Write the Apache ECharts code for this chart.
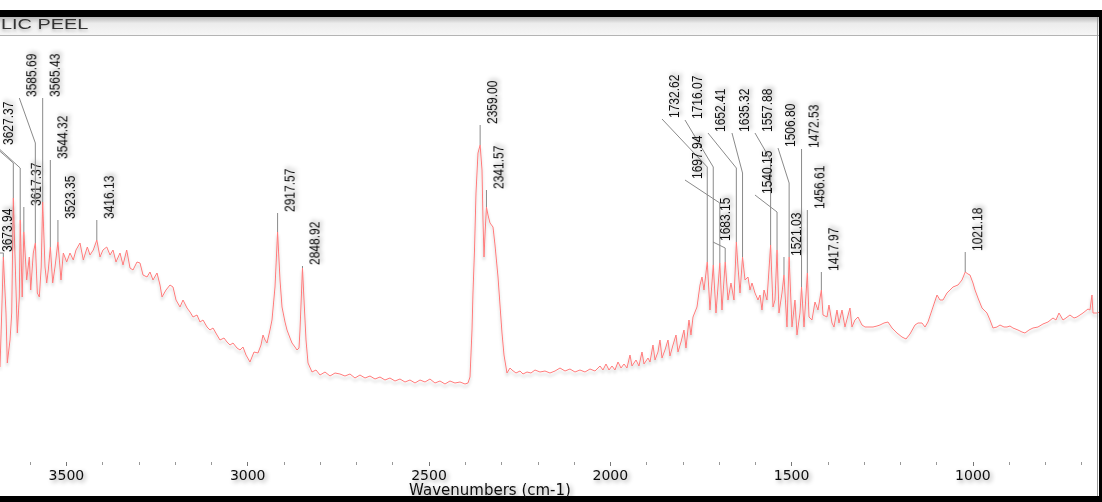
<!DOCTYPE html>
<html><head><meta charset="utf-8">
<script src="https://cdn.jsdelivr.net/npm/echarts@6/dist/echarts.min.js"></script>
<style>html,body{margin:0;padding:0;background:#fff;overflow:hidden}#c{width:1102px;height:502px}</style>
</head><body><div id="c"></div><script>
const titleText = 'LIC PEEL';
const axisTitle = 'Wavenumbers (cm-1)';
const xTicks = [500, 4000, 500]; // min, max, interval

// [wavenumber (cm-1), absorbance (arbitrary units)]
const spectrum = [
[3683.1,23.75],[3678.4,37.25],[3673.94,51.25],[3666.6,37.25],[3663.0,24.75],[3655.5,30.5],[3650.8,37.25],[3646.40,66],[3639.8,45.5],[3635.4,32.25],[3629.9,41.25],[3627.37,60.5],[3621.9,41.25],[3617.37,57.5],[3609.5,45.5],[3602.3,51.25],[3598.4,43],[3591.3,52.25],[3585.69,54.75],[3580.2,42.25],[3574.7,41.25],[3569.5,48.75],[3565.43,65],[3559.0,48.75],[3554.3,44.75],[3549.9,48],[3544.32,53.75],[3537.8,44.75],[3531.4,48.75],[3523.35,55],[3514.9,45.5],[3508.5,52.25],[3499.2,50],[3490.1,52.25],[3481.0,50.5],[3473.5,53],[3462.5,54.75],[3453.4,50.5],[3442.3,53.75],[3434.9,51.75],[3425.8,53],[3416.13,55.5],[3407.3,51.25],[3399.1,53],[3388.8,53.75],[3379.7,51.75],[3371.5,53],[3363.2,50],[3352.2,52.25],[3343.9,49.25],[3333.7,53],[3324.6,48.5],[3316.3,48],[3305.3,50],[3297.0,49.75],[3288.7,46.75],[3277.7,46.25],
[3269.4,47.5],[3261.2,45.5],[3250.1,47.25],[3241.9,44.25],[3236.3,41.25],[3225.3,43],[3214.3,44.25],[3206.0,43.75],[3197.7,40.5],[3186.7,38.75],[3178.4,40.5],[3167.4,38.5],[3159.1,37.5],[3150.8,36.25],[3139.8,36.75],[3131.5,35],[3123.3,35.5],[3112.2,33.75],[3104.0,33],[3095.7,33.5],[3084.7,31.75],[3076.4,30.5],[3065.4,31],[3057.1,30],[3048.8,29.25],[3040.5,29.75],[3029.5,28.5],[3021.2,28],[3013.0,28.75],[3004.7,26.75],[2993.7,25],[2982.6,27.5],[2971.6,27.25],[2963.3,29.25],[2957.8,31.75],[2952.3,30.5],[2946.8,29.75],[2938.5,33],[2933.0,35.5],[2924.7,43.75],[2917.57,57.5],[2910.9,45.5],[2905.4,38.75],[2897.1,35],[2891.6,33],[2883.3,31],[2877.8,29.75],[2869.6,28.75],[2864.0,28],[2858.5,28.5],[2855.8,33],[2848.92,48.5],[2844.7,40.5],[2839.2,30.5],[2833.7,24.75],[2822.7,22.5],
[2811.6,23],[2800.6,21.75],[2786.8,22.5],[2773.0,21.5],[2759.2,22.25],[2745.5,22],[2731.7,21.5],[2717.9,22],[2704.1,21],[2690.3,21.75],[2676.5,21],[2662.7,21.5],[2648.9,20.75],[2635.1,21.25],[2621.4,20.5],[2607.6,21],[2593.8,20.25],[2580.0,20.75],[2566.2,20],[2552.4,20.5],[2538.6,19.75],[2524.8,20.5],[2511.0,20],[2497.3,20.75],[2483.5,19.75],[2469.7,20.25],[2455.9,19.5],[2442.1,20.25],[2428.3,19.75],[2414.5,20],[2400.7,19.5],[2392.5,19.75],[2386.9,21.25],
[2381.4,33],[2378.7,42.25],[2374.5,53],[2370.4,67.25],[2364.9,77.25],[2359.00,79.25],[2353.8,73],[2351.1,60.5],[2348.3,51.25],[2345.6,56.75],[2341.57,63.75],[2337.3,61.75],[2331.8,59.75],[2323.5,58.75],[2318.0,54.25],[2309.7,46.25],[2304.2,39.25],[2298.7,32.25],[2293.2,26.75],[2284.9,22.25],[2276.6,23.5],[2271.1,23],[2260.1,22.25],[2249.0,22.75],[2240.8,22],[2229.7,22.5],[2218.7,22.25],
[2207.7,23],[2193.9,22.5],[2180.1,22.75],[2166.3,22.25],[2152.5,22.75],[2138.7,23.5],[2124.9,22.75],[2111.2,23.25],[2097.4,22.5],[2083.6,23],[2069.8,22.5],[2056.0,23.25],[2042.2,22.75],[2028.4,24],[2020.2,23],[2011.9,24.5],[2003.6,23],[1995.3,24],[1987.1,23],[1978.8,25],[1970.5,23.5],[1962.2,24.5],[1954.0,23.5],[1945.7,26.75],[1940.2,24],[1929.1,25.5],[1920.9,24],[1912.6,27.5],[1907.1,24.5],[1896.0,26],[1890.5,25],[1882.3,29.25],[1876.7,25.5],[1868.5,27.5],[1863.0,30.5],[1857.4,26],[1849.2,28],[1840.9,30.5],[1835.4,26.5],[1827.1,29.25],[1818.8,31.75],[1813.3,27.5],[1805.0,30],[1796.8,33],[1791.3,28.5],[1783.0,35.5],[1777.5,31.75],
[1771.9,36.25],[1760.9,38.75],[1752.6,44.25],[1747.1,46.25],[1741.6,43],[1732.62,50],[1725.1,38],[1716.07,49.25],[1708.5,37.25],[1697.94,49.75],[1692.0,38],[1683.15,50],[1675.4,40.5],[1667.2,44.75],[1658.9,40.5],[1652.41,55],[1647.8,48.75],[1642.3,42.25],[1635.32,51.25],[1628.5,45.5],[1620.3,46.25],[1614.8,43],[1609.2,44.75],[1601.0,42.25],[1592.7,40.5],[1587.2,41.75],[1581.7,38],[1576.1,43],[1567.9,40.5],[1557.88,54.25],[1551.3,38.75],[1545.8,40.5],[1540.15,53],[1534.8,37.25],[1526.5,42.25],[1521.03,46.75],[1512.7,33.75],[1506.80,51.25],[1498.9,33.75],[1490.7,40.5],[1485.1,31.75],[1476.9,37.25],[1472.53,43.75],[1465.8,33.75],[1456.61,47.25],[1452.0,36.25],[1443.8,35.5],[1435.5,40],[1427.2,38],[1417.97,43],[1413.4,36.75],[1402.4,36.25],[1396.9,39.25],[1388.6,34.75],[1383.1,33.75],[1374.8,38],[1369.3,34.75],[1361.0,38],[1352.8,33.75],[1339.0,38.5],[1333.5,33.75],[1325.2,35.5],[1316.9,36.25],[1305.9,34.25],[1297.6,33.75],
[1289.3,33.75],[1275.5,33.75],[1264.5,34],[1256.2,34.25],[1245.2,34.75],[1234.2,35],[1223.1,33.5],[1209.4,32.25],[1195.6,31.25],[1184.5,30.75],[1173.5,32],[1159.7,34.25],[1151.4,34.75],[1140.4,34.75],[1132.1,33.75],[1123.9,35],[1112.8,38],[1099.0,41.75],[1090.8,40.5],[1082.5,40.5],[1071.5,42.25],[1063.2,43],[1054.9,43.75],[1041.1,44.25],[1030.1,45.5],[1021.18,47.5],[1013.6,47],[1008.0,46.75],[999.8,44.75],[994.2,43],[986.0,41],[974.9,38.5],[961.2,37.25],[952.9,35.5],[944.6,33.5],[933.6,33.75],[925.3,34.25],[914.3,33.75],[906.0,33.75],[897.7,34],[889.5,33.5],[875.7,33],[864.6,32.5],[856.4,32.25],[845.3,33],[834.3,33.5],[820.5,33.75],[806.7,34.5],[792.9,35],[779.1,36],[770.9,35.5],[762.6,37.25],[751.6,35.5],[743.3,36],[732.3,36.75],[721.2,36],[713.0,36.25],[704.7,36.75],[696.4,37.25],[682.6,38.25],[677.1,38],[671.6,41.75],[668.8,37.25],[657.8,37.25],[650.0,37.5]
];

// labelled peaks (label text = wavenumber); the 3646.40 label lies outside the visible window
const peakWavenumbers = [3673.94,3646.40,3627.37,3617.37,3585.69,3565.43,3544.32,3523.35,3416.13,2917.57,2848.92,2359.00,2341.57,1732.62,1716.07,1697.94,1683.15,1652.41,1635.32,1557.88,1540.15,1521.03,1506.80,1472.53,1456.61,1417.97,1021.18];
// leader-line layout per peak: [elbow value, label wavenumber, label value]
const peakLabelLayout = [
[52.25,3696.9,52.25],[74.75,3743.8,82.5],[73.5,3694.1,79],[63.75,3617.37,63.75],[79.75,3629.9,91],[91,3565.43,91],[75.5,3544.32,75.5],[60.5,3523.35,60.5],[60.5,3416.13,60.5],
[62.25,2917.57,62.25],[49,2848.92,49],[84.25,2359.00,84.25],[68,2341.57,68],
[73.75,1857.4,85.75],[73.75,1794.0,85.5],[64.75,1794.0,70.5],[53.5,1716.8,55],[73.5,1730.6,82.25],[72.25,1664.4,82.25],[75.5,1601.0,82.25],[62.5,1601.0,66.75],[51.25,1521.03,51.25],[69.75,1537.5,78.5],[78.25,1472.53,78.25],[63,1456.61,63],[47.5,1417.97,47.5],[52.5,1021.18,52.5]
];

const valueAt = wn => { const p = spectrum.find(d => Math.abs(d[0] - wn) < 1e-6); return p ? p[1] : 0; };
const labelData = peakWavenumbers.map((wn, i) => [wn, valueAt(wn), peakLabelLayout[i][0], peakLabelLayout[i][1], peakLabelLayout[i][2]]);

const chart = echarts.init(document.getElementById('c'), null, {renderer: 'svg', width: 1102, height: 502});
const shadowText = {textShadowColor: 'rgba(0,0,0,0.4)', textShadowBlur: 4, textShadowOffsetX: 2, textShadowOffsetY: 2};

chart.setOption({
  animation: false,
  backgroundColor: '#fff',
  grid: {left: -114.9, width: 1269.1, top: 36, height: 426, containLabel: false, outerBoundsMode: 'none'},
  xAxis: {
    type: 'value', inverse: true, min: xTicks[0], max: xTicks[1], interval: xTicks[2],
    axisLine: {lineStyle: {color: '#444', width: 1.5, shadowColor: 'rgba(0,0,0,0.3)', shadowBlur: 3, shadowOffsetY: 2}},
    axisTick: {show: true, length: 4, lineStyle: {color: '#777'}},
    minorTick: {show: true, splitNumber: 5, length: 3, lineStyle: {color: '#999'}},
    axisLabel: Object.assign({fontFamily: 'DejaVu Sans', fontSize: 14, color: '#111', margin: 6, showMinLabel: false, showMaxLabel: false, formatter: v => String(v)}, shadowText),
    splitLine: {show: false}
  },
  yAxis: {type: 'value', min: 0, max: 106.5, show: false},
  series: [
    {type: 'line', data: spectrum, symbol: 'none', z: 3,
     lineStyle: {color: '#ff7b7b', width: 1, shadowColor: 'rgba(0,0,0,0.22)', shadowBlur: 3, shadowOffsetY: 3}},
    {type: 'custom', data: labelData, clip: false, z: 4,
     encode: {x: [0, 3], y: [1, 2, 4]},
     renderItem: function (params, api) {
       const p = api.coord([api.value(0), api.value(1)]);
       const e = api.coord([api.value(0), api.value(2)]);
       const t = api.coord([api.value(3), api.value(4)]);
       const children = [{type: 'polyline', shape: {points: [p, e, t]}, style: {stroke: '#8a8a8a', lineWidth: 1, fill: null}}];
       if (t[0] + 12 > 0) {
         children.push({type: 'text', x: t[0] + 12, y: t[1] - 1, rotation: Math.PI / 2, scaleY: 1.15,
          style: Object.assign({text: api.value(0).toFixed(2), fontFamily: 'Liberation Sans', fontSize: 12, fill: '#111',
                  align: 'left', verticalAlign: 'middle'}, shadowText)});
       }
       return {type: 'group', children: children};
     }}
  ],
  graphic: [
    {type: 'rect', z: 100, shape: {x: 0, y: 10, width: 1102, height: 7}, style: {fill: '#000'}},
    {type: 'rect', z: 99, shape: {x: 0, y: 17, width: 1099, height: 18},
     style: {fill: new echarts.graphic.LinearGradient(0, 0, 0, 1, [{offset: 0, color: '#b8b8b8'}, {offset: 0.35, color: '#ececec'}, {offset: 1, color: '#f6f6f6'}])}},
    {type: 'line', z: 100, shape: {x1: 0, y1: 35.5, x2: 1099, y2: 35.5}, style: {stroke: '#b4b4b4', lineWidth: 1}},
    {type: 'text', z: 101, x: 1, y: 24, scaleX: 1.42,
     style: Object.assign({text: titleText, fontFamily: 'Liberation Sans', fontSize: 14, fill: '#333', verticalAlign: 'middle'}, {textShadowColor: 'rgba(0,0,0,0.25)', textShadowBlur: 3, textShadowOffsetY: 2})},
    {type: 'line', z: 100, shape: {x1: 1097.5, y1: 17, x2: 1097.5, y2: 496}, style: {stroke: '#999', lineWidth: 1}},
    {type: 'rect', z: 100, shape: {x: 1099, y: 10, width: 3, height: 492}, style: {fill: '#000'}},
    {type: 'rect', z: 100, shape: {x: 0, y: 496, width: 1102, height: 6}, style: {fill: '#000'}},
    {type: 'text', z: 101, x: 490, y: 490,
     style: Object.assign({text: axisTitle, fontFamily: 'DejaVu Sans', fontSize: 15, fill: '#111', align: 'center', verticalAlign: 'middle'}, shadowText)}
  ]
});
</script></body></html>
